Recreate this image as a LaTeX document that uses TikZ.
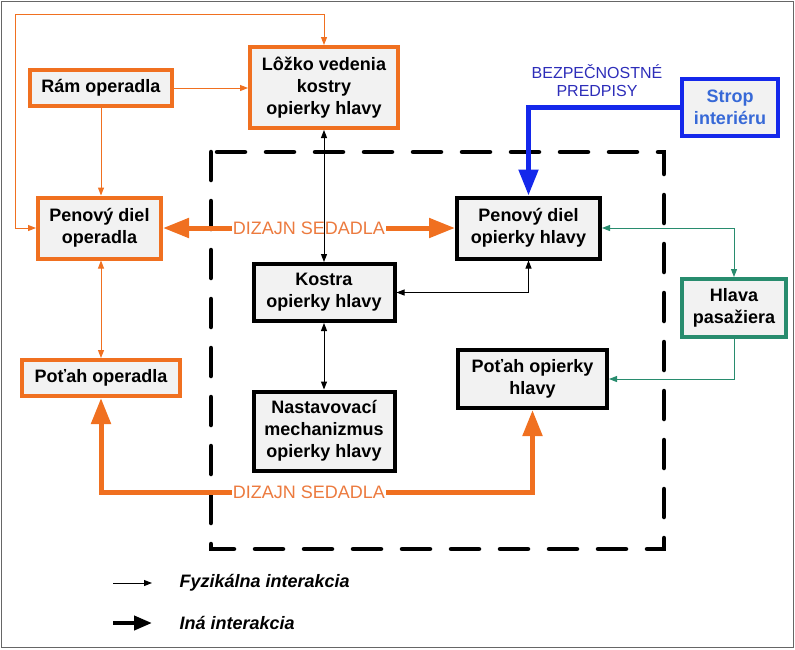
\documentclass[tikz,border=0pt]{standalone}
\usepackage{fontspec}
\setmainfont{Liberation Sans}
\usetikzlibrary{arrows.meta}
\definecolor{seatorange}{RGB}{240,112,32}
\definecolor{labelorange}{RGB}{236,122,62}
\definecolor{roofblue}{RGB}{20,40,235}
\definecolor{rooftext}{RGB}{55,105,215}
\definecolor{rulesblue}{RGB}{45,45,185}
\definecolor{headgreen}{RGB}{40,140,110}
\begin{document}
\begin{tikzpicture}[x=1pt,y=-1pt,
		box/.style={draw,line width=4pt,fill=black!5,align=center,inner sep=0pt,font=\fontsize{18}{22}\selectfont\bfseries},
		obox/.style={box,draw=seatorange},
		kbox/.style={box,draw=black},
		bbox/.style={box,draw=roofblue,text=rooftext},
		gbox/.style={box,draw=headgreen},
		phys/.style={line width=1pt,>={Triangle[length=8pt,width=6pt]}},
		other/.style={line width=5pt,>={Triangle[length=26pt,width=19pt]}},
		dlabel/.style={fill=white,text=labelorange,inner sep=1pt,font=\fontsize{18}{22}\selectfont},
		legtext/.style={anchor=west,font=\fontsize{18}{22}\selectfont\bfseries\itshape}]
	\useasboundingbox (0,0) rectangle (795,649);
	\draw[black!60,line width=1.5pt] (1.5,1.5) rectangle (793.5,647.5);
	\draw[line width=4.5pt,dash pattern=on 28pt off 21pt,line cap=round] (211,152) rectangle (664,549);

	\node[obox,minimum width=142pt,minimum height=36pt] (ram) at (101,88) {Rám operadla};
	\node[obox,minimum width=148pt,minimum height=81pt] (lozko) at (324,87.5) {Lôžko vedenia\\kostry\\opierky hlavy};
	\node[obox,minimum width=123pt,minimum height=61pt] (penop) at (99.5,228) {Penový diel\\operadla};
	\node[obox,minimum width=158pt,minimum height=36pt] (potop) at (101,378) {Poťah operadla};
	\node[kbox,minimum width=141pt,minimum height=57pt] (kostra) at (324,292.5) {Kostra\\opierky hlavy};
	\node[kbox,minimum width=141pt,minimum height=79pt] (nast) at (324,431) {Nastavovací\\mechanizmus\\opierky hlavy};
	\node[kbox,minimum width=143pt,minimum height=61pt] (penoh) at (528.5,228) {Penový diel\\opierky hlavy};
	\node[kbox,minimum width=149pt,minimum height=58pt] (potoh) at (532.5,379) {Poťah opierky\\hlavy};
	\node[bbox,minimum width=96pt,minimum height=57pt] (strop) at (730,107.5) {Strop\\interiéru};
	\node[gbox,minimum width=104pt,minimum height=58pt] (hlava) at (734,308) {Hlava\\pasažiera};

	\coordinate (loop) at (15,14);
	\draw[phys,seatorange,<->] (penop.west) -| (loop) -| (lozko.north);
	\draw[phys,seatorange,->] (ram.east) -- (ram.east -| lozko.west);
	\draw[phys,seatorange,->] (ram.south) -- (ram.south |- penop.north);
	\draw[phys,seatorange,<->] (potop.north |- penop.south) -- (potop.north);
	\draw[other,seatorange,<->] (penop.east) -- node[dlabel] (dz1) {DIZAJN SEDADLA} (penoh.west);
	\coordinate (bend) at (101,492);
	\draw[other,seatorange,<->] (potop.south) -- (bend) -| (potoh.south);
	\node[dlabel] (dz2) at (309,492) {DIZAJN SEDADLA};

	\draw[phys,<->] (kostra.north |- lozko.south) -- (kostra.north);
	\draw[phys,<->] (kostra.south) -- (nast.north);
	\draw[phys,<->] (kostra.east) -| (penoh.south);

	\draw[other,roofblue,->] (strop.west) -| (penoh.north);
	\node[align=center,text=rulesblue,font=\fontsize{16}{18}\selectfont] (rules) at (597,81) {BEZPEČNOSTNÉ\\PREDPISY};

	\draw[phys,headgreen,<->] (penoh.east) -| (hlava.north);
	\draw[phys,headgreen,->] (hlava.south) |- (potoh.east);

	\coordinate (f1) at (113,583);
	\coordinate (f2) at (152,583);
	\draw[phys,->] (f1) -- (f2);
	\node[legtext] (fyz) at (176,583) {Fyzikálna interakcia};
	\coordinate (o1) at (113,623);
	\coordinate (o2) at (152,623);
	\draw[line width=4pt,->,>={Triangle[length=18pt,width=14pt]}] (o1) -- (o2);
	\node[legtext] (ina) at (176,623) {Iná interakcia};
\end{tikzpicture}
\end{document}
